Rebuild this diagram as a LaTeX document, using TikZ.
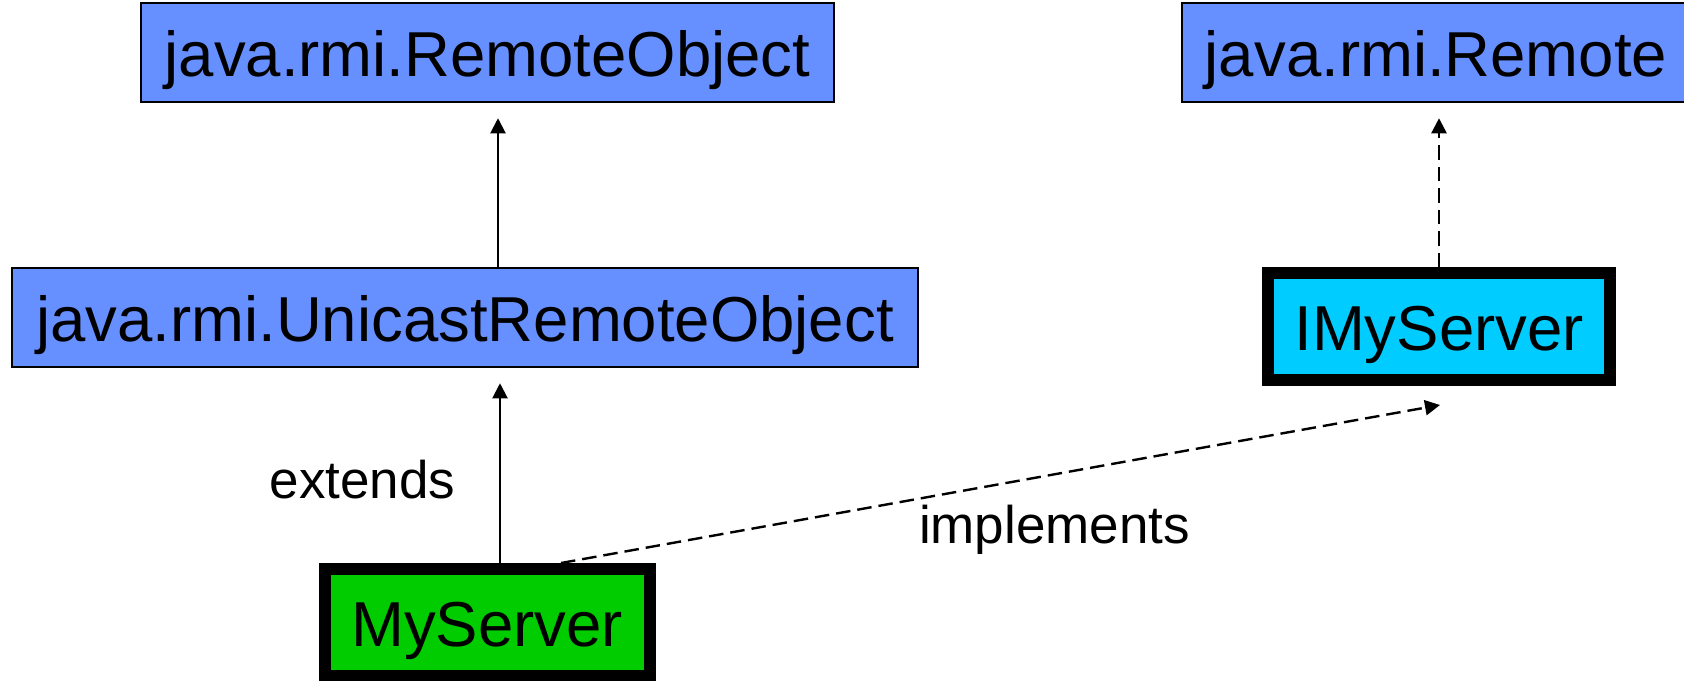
\documentclass[tikz,border=0pt]{standalone}
\usepackage{fontspec}
\setmainfont{Liberation Sans}
\usetikzlibrary{positioning, arrows.meta, calc}
\definecolor{ClassBlue}{RGB}{102, 143, 255}
\definecolor{IfaceCyan}{RGB}{0, 204, 255}
\definecolor{ImplGreen}{RGB}{0, 204, 0}

\begin{document}
\begin{tikzpicture}[x=0.5pt, y=-0.5pt,
    libclass/.style={draw=black, line width=0.75pt, fill=ClassBlue, inner sep=0pt,
        minimum height=49.5pt, text height=30pt, text depth=6.5pt,
        font=\fontsize{31.75}{38}\selectfont},
    ownclass/.style={draw=black, line width=6pt, inner sep=0pt,
        minimum height=53.5pt, text height=30pt, text depth=6.5pt,
        font=\fontsize{31.75}{38}\selectfont},
    edgelabel/.style={anchor=base, font=\fontsize{26.5}{32}\selectfont},
    extendsarrow/.style={line width=1pt, -{Triangle[length=7.5pt, width=7.5pt]}},
    implarrow/.style={extendsarrow, line width=1.2pt, dash pattern=on 7.25pt off 3.5pt}]
            \useasboundingbox (0,0) rectangle (1684,680);
            \clip (0,0) rectangle (1684,680);

            % Library classes
            \node[libclass, minimum width=346.5pt] (remoteobj) at (487.5,52.5) {java.rmi.RemoteObject};
            \node[libclass, minimum width=453pt] (unicast) at (465,317.5) {java.rmi.UnicastRemoteObject};
            \node[libclass, minimum width=254pt] (remote) at (1436,52.5) {java.rmi.Remote};

            % Own classes
            \node[ownclass, fill=IfaceCyan, minimum width=171pt] (imyserver) at (1439,326.5) {IMyServer};
            \node[ownclass, fill=ImplGreen, minimum width=162.5pt] (myserver) at (487,622.5) {MyServer};

            % Inheritance
            \draw[extendsarrow] ($(unicast.north)+(33,0)$) -- ($(remoteobj.south)+(10.5,15.5)$);
            \draw[extendsarrow] ($(myserver.north)+(13,0)$) -- ($(unicast.south)+(35,15.5)$);
            \draw[implarrow] (imyserver.north) -- ($(remote.south)+(3,15.5)$);
            \draw[implarrow] ($(myserver.north)+(74,0)$) -- ($(imyserver.south)+(1,19)$);

            % Labels
            \node[edgelabel] (extendslbl) at (362.5,498) {extends};
            \node[edgelabel] (implementslbl) at (1054.5,543) {implements};
        \end{tikzpicture}
\end{document}
